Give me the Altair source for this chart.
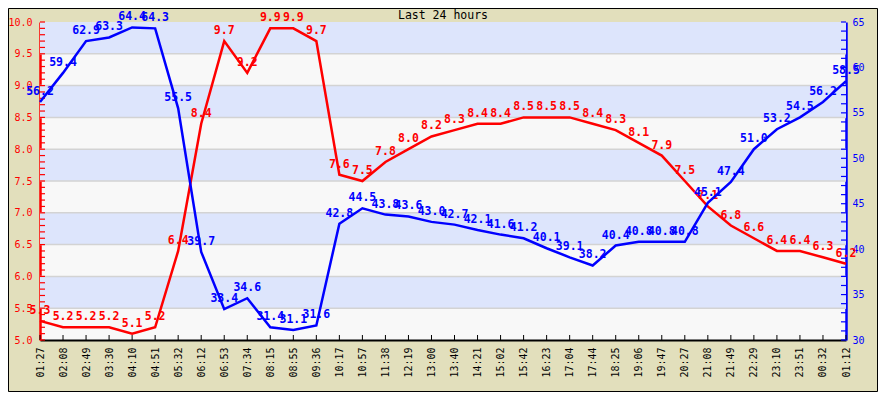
import altair as alt
import pandas as pd

times = ["01:27","02:08","02:49","03:30","04:10","04:51","05:32","06:12","06:53","07:34",
         "08:15","08:55","09:36","10:17","10:57","11:38","12:19","13:00","13:40","14:21",
         "15:02","15:42","16:23","17:04","17:44","18:25","19:06","19:47","20:27","21:08",
         "21:49","22:29","23:10","23:51","00:32","01:12"]
red_vals = [5.3,5.2,5.2,5.2,5.1,5.2,6.4,8.4,9.7,9.2,9.9,9.9,9.7,7.6,7.5,7.8,8.0,8.2,8.3,8.4,
            8.4,8.5,8.5,8.5,8.4,8.3,8.1,7.9,7.5,7.1,6.8,6.6,6.4,6.4,6.3,6.2]
blue_vals = [56.2,59.4,62.9,63.3,64.4,64.3,55.5,39.7,33.4,34.6,31.4,31.1,31.6,42.8,44.5,43.8,
             43.6,43.0,42.7,42.1,41.6,41.2,40.1,39.1,38.2,40.4,40.8,40.8,40.8,45.1,47.4,51.0,
             53.2,54.5,56.2,58.5]

left_labels = [5.0,5.5,6.0,6.5,7.0,7.5,8.0,8.5,9.0,9.5,10.0]
right_labels = [30,35,40,45,50,55,60,65]
band_lo = [5.5,6.5,7.5,8.5,9.5]
band_hi = [6.0,7.0,8.0,9.0,10.0]
grid_vals = [5.5,6.0,6.5,7.0,7.5,8.0,8.5,9.0,9.5]
red_ticks = [round(5 + 0.1 * i, 1) for i in range(51)]
blue_ticks = list(range(30, 66))
title_text = ["Last 24 hours"]

W, H = 806, 318
MONO = "DejaVu Sans Mono"
RED = "#ff0000"
BLUE = "#0000ff"

df = pd.DataFrame({"t": times, "red": red_vals, "blue": blue_vals})
bands = pd.DataFrame({"lo": band_lo, "hi": band_hi})
grid = pd.DataFrame({"g": grid_vals})
rt = pd.DataFrame({"v": red_ticks})
bt = pd.DataFrame({"v": blue_ticks})
tt = pd.DataFrame({"title": title_text})

x_enc = alt.X("t:O", sort=times, scale=alt.Scale(type="point", padding=0),
              axis=alt.Axis(title=None, labelAngle=270, labelFont=MONO, labelFontSize=10,
                            labelColor="black", domainColor="black", domainWidth=2,
                            ticks=False, labelPadding=7, grid=False))

red_scale = alt.Scale(domain=[5, 10], nice=False, zero=False)
red_axis = alt.Axis(title=None, values=left_labels, format=".1f", labelColor=RED,
                    domainColor=RED, domainWidth=2.5, ticks=False, grid=False,
                    labelFont=MONO, labelFontSize=10, labelPadding=8)
blue_scale = alt.Scale(domain=[30, 65], nice=False, zero=False)
blue_axis = alt.Axis(title=None, orient="right", values=right_labels, labelColor=BLUE,
                     domainColor=BLUE, domainWidth=2.5, ticks=False, grid=False,
                     labelFont=MONO, labelFontSize=10, labelPadding=6)

def ry(field):
    return alt.Y(field, scale=red_scale, axis=red_axis)

def by(field):
    return alt.Y(field, scale=blue_scale, axis=blue_axis)

band_layer = alt.Chart(bands).mark_rect(color="#dde5fc").encode(
    x=alt.value(0), x2=alt.value(W), y=ry("lo:Q"), y2="hi:Q")
grid_layer = alt.Chart(grid).mark_rule(color="#d3d3d3", strokeWidth=1.5).encode(y=ry("g:Q"))
xtick_layer = alt.Chart(df).mark_rule(color="black", strokeWidth=1).encode(
    x=x_enc, y=alt.value(H - 5), y2=alt.value(H))
rtick_layer = alt.Chart(rt).mark_rule(color=RED, strokeWidth=1.2).encode(
    y=ry("v:Q"), x=alt.value(0), x2=alt.value(5))
red_line = alt.Chart(df).mark_line(color=RED, strokeWidth=2.5).encode(x=x_enc, y=ry("red:Q"))
red_text = alt.Chart(df).mark_text(color=RED, font=MONO, fontWeight="bold", fontSize=11.5,
                                   baseline="alphabetic", dy=-7).encode(
    x=x_enc, y=ry("red:Q"), text=alt.Text("red:Q", format=".1f"))
title_layer = alt.Chart(tt).mark_text(color="black", font=MONO, fontSize=11.5,
                                      baseline="alphabetic").encode(
    x=alt.value(W / 2), y=alt.value(-3.5), text="title:N")
border_layer = alt.Chart(tt).mark_rect(fillOpacity=0, stroke="black", strokeWidth=1,
                                       clip=False).encode(
    x=alt.value(-31.5), x2=alt.value(W + 31.5), y=alt.value(-13.5), y2=alt.value(H + 51.5))

red_group = alt.layer(band_layer, grid_layer, xtick_layer, rtick_layer, red_line, red_text,
                      title_layer, border_layer)

btick_layer = alt.Chart(bt).mark_rule(color=BLUE, strokeWidth=1.2).encode(
    y=by("v:Q"), x=alt.value(W - 5), x2=alt.value(W))
blue_line = alt.Chart(df).mark_line(color=BLUE, strokeWidth=2.5).encode(x=x_enc, y=by("blue:Q"))
blue_text = alt.Chart(df).mark_text(color=BLUE, font=MONO, fontWeight="bold", fontSize=11.5,
                                    baseline="alphabetic", dy=-7).encode(
    x=x_enc, y=by("blue:Q"), text=alt.Text("blue:Q", format=".1f"))

blue_group = alt.layer(btick_layer, blue_line, blue_text)

chart = alt.layer(red_group, blue_group).resolve_scale(y="independent").properties(
    width=W, height=H,
    padding={"left": 32, "top": 14, "right": 32, "bottom": 52},
    autosize=alt.AutoSizeParams(type="none"),
    background="#e2dfbc",
).configure_view(fill="#f8f8f8", stroke="transparent")

chart.save("out.html", embed_options={"renderer": "svg", "actions": False})
